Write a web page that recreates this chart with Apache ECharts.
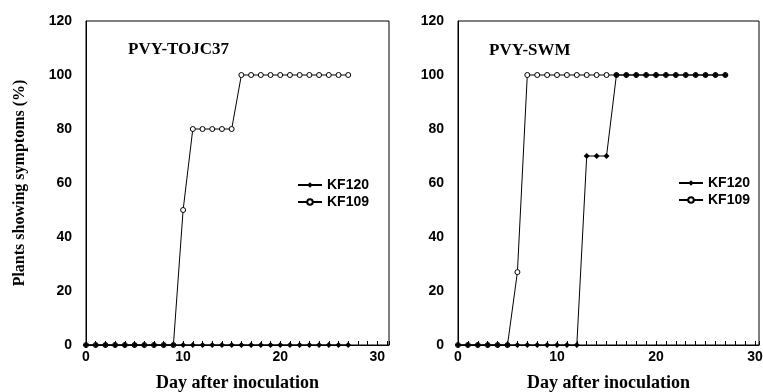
<!DOCTYPE html>
<html>
<head>
<meta charset="utf-8">
<script src="https://cdn.jsdelivr.net/npm/echarts@6/dist/echarts.min.js"></script>
<style>
	html, body { margin: 0; padding: 0; background: #fff; }
	#chart { width: 763px; height: 392px; }
</style>
</head>
<body>
<div id="chart"></div>
<script>
// days after inoculation
const days = [0, 1, 2, 3, 4, 5, 6, 7, 8, 9, 10, 11, 12, 13, 14, 15, 16, 17, 18, 19, 20, 21, 22, 23, 24, 25, 26, 27];

// PVY-TOJC37 (%)
const tojcKF120 = [0, 0, 0, 0, 0, 0, 0, 0, 0, 0, 0, 0, 0, 0, 0, 0, 0, 0, 0, 0, 0, 0, 0, 0, 0, 0, 0, 0];
const tojcKF109 = [0, 0, 0, 0, 0, 0, 0, 0, 0, 0, 50, 80, 80, 80, 80, 80, 100, 100, 100, 100, 100, 100, 100, 100, 100, 100, 100, 100];

// PVY-SWM (%)
const swmKF120 = [0, 0, 0, 0, 0, 0, 0, 0, 0, 0, 0, 0, 0, 70, 70, 70, 100, 100, 100, 100, 100, 100, 100, 100, 100, 100, 100, 100];
const swmKF109 = [0, 0, 0, 0, 0, 0, 27, 100, 100, 100, 100, 100, 100, 100, 100, 100, 100, 100, 100, 100, 100, 100, 100, 100, 100, 100, 100, 100];

const panelTitles = ["PVY-TOJC37", "PVY-SWM"];
const seriesNames = ["KF120", "KF109"];
const xTicks = [0, 10, 20, 30];
const yTicks = [0, 20, 40, 60, 80, 100, 120];

const pairs = vals => days.map((d, i) => [d, vals[i]]);

const tickFont = { color: "#000", fontFamily: "Liberation Sans", fontWeight: "bold", fontSize: 14 };
const serif = "Liberation Serif";

function xAxisOf(idx, max) {
	return {
		type: "value",
		gridIndex: idx,
		min: 0,
		max: max,
		interval: 10,
		name: "Day after inoculation",
		nameLocation: "middle",
		nameGap: 29,
		nameTextStyle: { fontFamily: serif, fontWeight: "bold", fontSize: 18, color: "#000" },
		axisLine: { lineStyle: { color: "#000", width: 1 } },
		axisTick: { show: true, inside: true, length: 4, lineStyle: { color: "#000" } },
		minorTick: { show: true, splitNumber: 10, length: 4, lineStyle: { color: "#000" } },
		splitLine: { show: false },
		axisLabel: {
			...tickFont,
			margin: 5,
			showMaxLabel: false,
			formatter: v => (xTicks.includes(v) ? String(v) : "")
		}
	};
}

function yAxisOf(idx, withName) {
	return {
		type: "value",
		gridIndex: idx,
		min: 0,
		max: 120,
		interval: 20,
		name: withName ? "Plants showing symptoms (%)" : "",
		nameLocation: "middle",
		nameGap: 58,
		nameTextStyle: { fontFamily: serif, fontWeight: "bold", fontSize: 16, color: "#000" },
		axisLine: { show: true, lineStyle: { color: "#000", width: 1 } },
		axisTick: { show: false },
		splitLine: { show: false },
		axisLabel: { ...tickFont, margin: 14, formatter: v => (yTicks.includes(v) ? String(v) : "") }
	};
}

function seriesOf(idx, kf120, kf109) {
	return [
		{
			name: seriesNames[1],
			type: "line",
			xAxisIndex: idx,
			yAxisIndex: idx,
			data: pairs(kf109),
			symbol: "circle",
			symbolSize: 5,
			lineStyle: { color: "#000", width: 1 },
			itemStyle: { color: "#fff", borderColor: "#000", borderWidth: 1 },
			z: 2
		},
		{
			name: seriesNames[0],
			type: "line",
			xAxisIndex: idx,
			yAxisIndex: idx,
			data: pairs(kf120),
			symbol: "diamond",
			symbolSize: 6,
			lineStyle: { color: "#000", width: 1 },
			itemStyle: { color: "#000", borderColor: "#000", borderWidth: 0 },
			z: 3
		}
	];
}

const legendText = { fontFamily: "Liberation Sans", fontWeight: "bold", fontSize: 14, color: "#000" };
const legendBase = {
	orient: "vertical",
	itemWidth: 24,
	itemHeight: 7,
	itemGap: 3,
	textStyle: legendText,
	data: [{ name: seriesNames[0] }, { name: seriesNames[1] }]
};

const gridBase = {
	top: 21,
	height: 324,
	show: true,
	borderColor: "#000",
	borderWidth: 1,
	backgroundColor: "transparent",
	containLabel: false,
	outerBoundsMode: "none"
};

const chart = echarts.init(document.getElementById("chart"), null, { renderer: "canvas" });
chart.setOption({
	animation: false,
	backgroundColor: "#fff",
	title: [
		{ text: panelTitles[0], left: 123, top: 36, textStyle: { fontFamily: serif, fontWeight: "bold", fontSize: 17, color: "#000" } },
		{ text: panelTitles[1], left: 484, top: 37, textStyle: { fontFamily: serif, fontWeight: "bold", fontSize: 17, color: "#000" } }
	],
	legend: [
		{ ...legendBase, left: 292, top: 173 },
		{ ...legendBase, left: 673, top: 171 }
	],
	grid: [
		{ ...gridBase, left: 86, width: 303 },
		{ ...gridBase, left: 458, width: 301 }
	],
	xAxis: [xAxisOf(0, 31.2), xAxisOf(1, 30.4)],
	yAxis: [yAxisOf(0, true), yAxisOf(1, false)],
	series: [...seriesOf(0, tojcKF120, tojcKF109), ...seriesOf(1, swmKF120, swmKF109)]
});
</script>
</body>
</html>
